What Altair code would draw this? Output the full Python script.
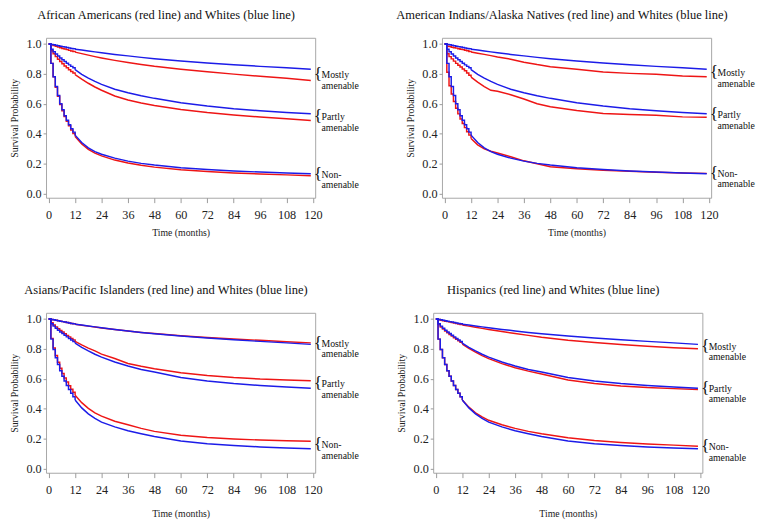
import altair as alt
import pandas as pd

SERIF = "Liberation Serif"
RED = "#ee1515"
BLUE = "#1c1ce8"

# time points (months) at which the survival curves are read
T = [0, 1, 2, 3, 4, 5, 6, 7, 8, 9, 10, 11, 12, 15, 18, 21, 24, 30, 36, 42, 48, 60, 72, 84, 96, 108, 119]

# Whites (blue lines), top-row panels
w_top_mostly = [1.0, 0.997, 0.994, 0.991, 0.988, 0.985, 0.982, 0.979, 0.976, 0.973, 0.970, 0.968, 0.965, 0.959, 0.953, 0.947, 0.941, 0.930, 0.920, 0.910, 0.901, 0.886, 0.873, 0.861, 0.850, 0.840, 0.830]
w_top_partly = [1.0, 0.965, 0.948, 0.933, 0.919, 0.906, 0.894, 0.882, 0.871, 0.860, 0.850, 0.840, 0.828, 0.797, 0.771, 0.749, 0.729, 0.697, 0.673, 0.653, 0.636, 0.607, 0.585, 0.567, 0.553, 0.542, 0.533]
w_top_non = [1.0, 0.870, 0.780, 0.715, 0.655, 0.600, 0.560, 0.520, 0.490, 0.460, 0.432, 0.410, 0.390, 0.340, 0.305, 0.280, 0.262, 0.236, 0.216, 0.201, 0.190, 0.172, 0.160, 0.150, 0.143, 0.137, 0.131]

# Whites (blue lines), bottom-row panels
w_bot_mostly = [1.0, 0.997, 0.994, 0.991, 0.988, 0.985, 0.982, 0.979, 0.976, 0.973, 0.970, 0.968, 0.965, 0.959, 0.953, 0.947, 0.941, 0.930, 0.920, 0.910, 0.901, 0.886, 0.873, 0.861, 0.850, 0.840, 0.830]
w_bot_partly = [1.0, 0.968, 0.952, 0.938, 0.925, 0.913, 0.902, 0.891, 0.880, 0.869, 0.859, 0.849, 0.838, 0.810, 0.786, 0.764, 0.745, 0.712, 0.685, 0.662, 0.645, 0.608, 0.585, 0.568, 0.555, 0.545, 0.537]
w_bot_non = [1.0, 0.865, 0.795, 0.740, 0.695, 0.653, 0.617, 0.585, 0.555, 0.528, 0.503, 0.480, 0.458, 0.405, 0.365, 0.335, 0.310, 0.278, 0.252, 0.232, 0.214, 0.183, 0.165, 0.153, 0.144, 0.137, 0.131]

# African Americans (red)
aa_mostly = [1.0, 0.995, 0.990, 0.985, 0.980, 0.975, 0.970, 0.966, 0.962, 0.957, 0.953, 0.949, 0.945, 0.935, 0.925, 0.915, 0.906, 0.890, 0.876, 0.863, 0.851, 0.831, 0.814, 0.798, 0.784, 0.770, 0.756]
aa_partly = [1.0, 0.955, 0.935, 0.915, 0.898, 0.882, 0.867, 0.853, 0.840, 0.828, 0.816, 0.805, 0.795, 0.765, 0.737, 0.712, 0.690, 0.652, 0.625, 0.605, 0.588, 0.562, 0.541, 0.525, 0.511, 0.499, 0.488]
aa_non = [1.0, 0.870, 0.780, 0.710, 0.650, 0.595, 0.553, 0.515, 0.483, 0.452, 0.424, 0.401, 0.381, 0.330, 0.295, 0.270, 0.251, 0.223, 0.203, 0.188, 0.176, 0.158, 0.146, 0.137, 0.130, 0.124, 0.118]

# American Indians/Alaska Natives (red)
ai_mostly = [1.0, 0.985, 0.982, 0.978, 0.975, 0.972, 0.968, 0.965, 0.962, 0.958, 0.954, 0.950, 0.946, 0.938, 0.930, 0.922, 0.913, 0.898, 0.878, 0.862, 0.848, 0.830, 0.812, 0.803, 0.797, 0.786, 0.780]
ai_partly = [1.0, 0.935, 0.915, 0.900, 0.885, 0.870, 0.857, 0.845, 0.833, 0.820, 0.805, 0.790, 0.778, 0.745, 0.715, 0.690, 0.683, 0.660, 0.632, 0.600, 0.580, 0.555, 0.535, 0.528, 0.523, 0.512, 0.510]
ai_non = [1.0, 0.810, 0.720, 0.665, 0.615, 0.570, 0.532, 0.498, 0.468, 0.440, 0.413, 0.390, 0.368, 0.325, 0.298, 0.282, 0.270, 0.245, 0.218, 0.198, 0.178, 0.165, 0.155, 0.148, 0.142, 0.137, 0.134]

# Asians/Pacific Islanders (red)
api_mostly = [1.0, 0.997, 0.994, 0.991, 0.988, 0.985, 0.982, 0.979, 0.976, 0.973, 0.970, 0.967, 0.964, 0.958, 0.952, 0.946, 0.940, 0.929, 0.919, 0.910, 0.902, 0.888, 0.876, 0.866, 0.857, 0.848, 0.840]
api_partly = [1.0, 0.975, 0.960, 0.947, 0.935, 0.923, 0.912, 0.901, 0.890, 0.880, 0.870, 0.860, 0.850, 0.826, 0.805, 0.786, 0.765, 0.735, 0.702, 0.683, 0.667, 0.640, 0.622, 0.608, 0.598, 0.592, 0.587]
api_non = [1.0, 0.870, 0.805, 0.755, 0.710, 0.670, 0.635, 0.605, 0.578, 0.553, 0.530, 0.510, 0.490, 0.440, 0.402, 0.372, 0.350, 0.316, 0.292, 0.268, 0.248, 0.222, 0.207, 0.197, 0.190, 0.185, 0.182]

# Hispanics (red)
hi_mostly = [1.0, 0.996, 0.992, 0.988, 0.985, 0.982, 0.979, 0.976, 0.972, 0.969, 0.966, 0.963, 0.960, 0.952, 0.945, 0.937, 0.930, 0.916, 0.903, 0.890, 0.878, 0.858, 0.842, 0.829, 0.818, 0.808, 0.800]
hi_partly = [1.0, 0.962, 0.946, 0.932, 0.919, 0.907, 0.896, 0.885, 0.874, 0.864, 0.854, 0.844, 0.832, 0.803, 0.778, 0.755, 0.735, 0.701, 0.674, 0.651, 0.632, 0.592, 0.568, 0.552, 0.541, 0.534, 0.528]
hi_non = [1.0, 0.865, 0.795, 0.740, 0.695, 0.653, 0.617, 0.585, 0.555, 0.528, 0.503, 0.480, 0.458, 0.410, 0.372, 0.345, 0.322, 0.292, 0.268, 0.248, 0.232, 0.205, 0.187, 0.174, 0.164, 0.156, 0.149]

categories = ["mostly", "partly", "non"]
cat_labels = {"mostly": "Mostly\namenable", "partly": "Partly\namenable", "non": "Non-\namenable"}

x_ticks = [0, 12, 24, 36, 48, 60, 72, 84, 96, 108, 120]
y_ticks = [0.0, 0.2, 0.4, 0.6, 0.8, 1.0]

panels = [
    ("African Americans (red line) and Whites (blue line)",
     [aa_mostly, aa_partly, aa_non], [w_top_mostly, w_top_partly, w_top_non]),
    ("American Indians/Alaska Natives (red line) and Whites (blue line)",
     [ai_mostly, ai_partly, ai_non], [w_top_mostly, w_top_partly, w_top_non]),
    ("Asians/Pacific Islanders (red line) and Whites (blue line)",
     [api_mostly, api_partly, api_non], [w_bot_mostly, w_bot_partly, w_bot_non]),
    ("Hispanics (red line) and Whites (blue line)",
     [hi_mostly, hi_partly, hi_non], [w_bot_mostly, w_bot_partly, w_bot_non]),
]

W, H = 276, 164
xscale = alt.Scale(domain=[-1.2, 121.0], nice=False, zero=False)
yscale = alt.Scale(domain=[-0.029, 1.041], nice=False, zero=False)
cscale = alt.Scale(domain=["red", "blue"], range=[RED, BLUE])


def make_panel(title, reds, blues, x_title_pad):
    rows = []
    for grp, arrs in (("red", reds), ("blue", blues)):
        for cat, arr in zip(categories, arrs):
            for t, v in zip(T, arr):
                rows.append({"t": t, "v": v, "group": grp, "series": grp + "_" + cat})
    df = pd.DataFrame(rows)
    lab = pd.DataFrame([
        {"t": T[-1], "v": (r[-1] + b[-1]) / 2, "label": cat_labels[c]}
        for c, r, b in zip(categories, reds, blues)
    ])
    x = alt.X("t:Q", scale=xscale,
              axis=alt.Axis(values=x_ticks, title="Time (months)", labelOverlap=False,
                            titlePadding=x_title_pad))
    y = alt.Y("v:Q", scale=yscale,
              axis=alt.Axis(values=y_ticks, format=".1f", labelOverlap=False,
                            title="Survival Probability"))
    enc = dict(x=x, y=y,
               color=alt.Color("group:N", scale=cscale, legend=None),
               detail="series:N")
    base = alt.Chart(df)
    steps = base.transform_filter(alt.datum.t <= 12).mark_line(
        interpolate="step-after", strokeWidth=1.5).encode(**enc)
    smooth = base.transform_filter(alt.datum.t >= 12).mark_line(
        interpolate="linear", strokeWidth=1.5).encode(**enc)
    lbase = alt.Chart(lab).encode(x=x, y=y)
    brace = lbase.mark_text(text="{", align="left", baseline="middle", dx=3, dy=-1,
                            font=SERIF, fontSize=18, color="#111")
    text = lbase.mark_text(align="left", baseline="middle", dx=11, font=SERIF,
                           fontSize=10, lineBreak="\n", lineHeight=11,
                           color="#111").encode(text="label:N")
    return alt.layer(steps, smooth, brace, text).properties(
        width=W, height=H, title=title)


charts = [make_panel(*p, x_title_pad=(7 if i < 2 else 13)) for i, p in enumerate(panels)]
row1 = alt.hconcat(charts[0], charts[1], spacing=36)
row2 = alt.hconcat(charts[2], charts[3], spacing=36)
chart = alt.vconcat(row1, row2, spacing=47).properties(
    padding={"left": 0, "top": -6, "right": 0, "bottom": 0}
).configure_view(
    stroke="#a6a6a6", strokeWidth=1
).configure_axis(
    labelFont=SERIF, titleFont=SERIF, labelFontSize=12.5, titleFontSize=10,
    titleFontWeight="normal", labelColor="#222", titleColor="#222",
    tickColor="#999", domain=False, grid=False
).configure_axisX(
    tickSize=5, labelPadding=6
).configure_axisY(
    tickSize=3, labelPadding=2, titlePadding=7
).configure_title(
    font=SERIF, fontSize=12.8, fontWeight="normal", color="#111",
    anchor="middle", frame="group", dx=-15, offset=16
)

chart.save("out.html", embed_options={"renderer": "svg", "actions": False})
